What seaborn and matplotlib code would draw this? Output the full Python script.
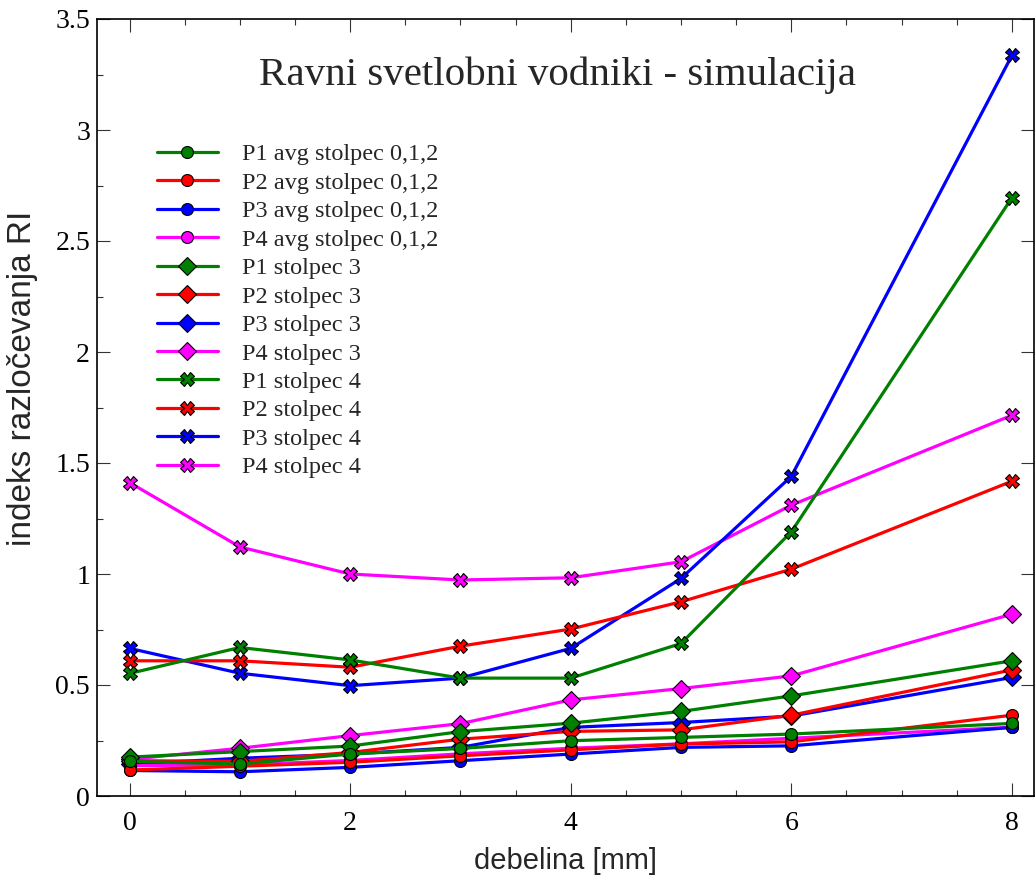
import numpy as np
import pandas as pd
import matplotlib
matplotlib.use("Agg")
import matplotlib.pyplot as plt
from matplotlib.ticker import MultipleLocator, FixedLocator
import seaborn as sns

# thickness of the light guide [mm]
debelina = [0, 1, 2, 3, 4, 5, 6, 8]

# resolution index RI, average of columns 0,1,2
p1_avg = [0.156, 0.144, 0.189, 0.214, 0.249, 0.264, 0.279, 0.327]
p2_avg = [0.117, 0.134, 0.152, 0.181, 0.208, 0.234, 0.244, 0.364]
p3_avg = [0.115, 0.109, 0.129, 0.159, 0.189, 0.219, 0.226, 0.309]
p4_avg = [0.137, 0.140, 0.160, 0.190, 0.215, 0.235, 0.260, 0.310]

# column 3
p1_st3 = [0.175, 0.200, 0.225, 0.290, 0.328, 0.381, 0.451, 0.609]
p2_st3 = [0.159, 0.156, 0.196, 0.256, 0.291, 0.298, 0.364, 0.568]
p3_st3 = [0.144, 0.170, 0.189, 0.219, 0.309, 0.331, 0.360, 0.534]
p4_st3 = [0.165, 0.215, 0.272, 0.326, 0.433, 0.484, 0.541, 0.819]

# column 4
p1_st4 = [0.552, 0.669, 0.613, 0.531, 0.531, 0.687, 1.190, 2.695]
p2_st4 = [0.609, 0.609, 0.580, 0.675, 0.752, 0.875, 1.022, 1.418]
p3_st4 = [0.665, 0.553, 0.497, 0.531, 0.665, 0.980, 1.440, 3.336]
p4_st4 = [1.412, 1.122, 1.000, 0.973, 0.983, 1.055, 1.310, 1.715]

labels = [
    "P1 avg stolpec 0,1,2", "P2 avg stolpec 0,1,2",
    "P3 avg stolpec 0,1,2", "P4 avg stolpec 0,1,2",
    "P1 stolpec 3", "P2 stolpec 3", "P3 stolpec 3", "P4 stolpec 3",
    "P1 stolpec 4", "P2 stolpec 4", "P3 stolpec 4", "P4 stolpec 4",
]
values = [p1_avg, p2_avg, p3_avg, p4_avg,
          p1_st3, p2_st3, p3_st3, p4_st3,
          p1_st4, p2_st4, p3_st4, p4_st4]

y_ticks = [0, 0.5, 1, 1.5, 2, 2.5, 3, 3.5]
y_ticklabels = ["0", "0.5", "1", "1.5", "2", "2.5", "3", "3.5"]
x_ticks = [0, 2, 4, 6, 8]
x_ticklabels = ["0", "2", "4", "6", "8"]

df = pd.DataFrame({
    "debelina": np.tile(debelina, len(labels)),
    "RI": np.concatenate(values),
    "serija": np.repeat(labels, len(debelina)),
})

colors = ["green", "red", "blue", "magenta"] * 3
markers = ["o"] * 4 + ["D"] * 4 + ["X"] * 4
msizes = [8.6] * 4 + [8.8] * 4 + [9.6] * 4

sns.set_style("ticks")
plt.rcParams["font.family"] = ["Liberation Serif", "DejaVu Serif"]

fig = plt.figure(figsize=(10.35, 8.77), dpi=100)
ax = fig.add_axes([97 / 1035, 81 / 877, 937 / 1035, 777 / 877])

# later series first so that P1 ends up on top of each group
for i in reversed(range(len(labels))):
    sub = df[df["serija"] == labels[i]]
    sns.lineplot(data=sub, x="debelina", y="RI", ax=ax,
                 color=colors[i], marker=markers[i], markersize=msizes[i],
                 markeredgecolor="black", markeredgewidth=0.8,
                 linewidth=2.3, label=labels[i], errorbar=None, sort=True)

ax.set_xlim(-0.295, 8.2)
ax.set_ylim(0, 3.5)

ax.xaxis.set_major_locator(FixedLocator(x_ticks))
ax.set_xticklabels(x_ticklabels)
ax.xaxis.set_minor_locator(MultipleLocator(0.5))
ax.yaxis.set_major_locator(FixedLocator(y_ticks))
ax.set_yticklabels(y_ticklabels)
ax.yaxis.set_minor_locator(MultipleLocator(0.25))

ax.tick_params(which="both", direction="in", top=True, right=True,
               colors="#333333", labelcolor="black")
ax.tick_params(which="major", length=9.5, width=0.8, labelsize=20)
ax.tick_params(axis="x", which="major", pad=11)
ax.tick_params(axis="y", which="major", pad=5)
ax.tick_params(which="minor", length=4.5, width=0.8)
ax.tick_params(axis="y", which="minor", right=False)

for s in ax.spines.values():
    s.set_linewidth(1.2)
    s.set_color("black")

ax.set_xlabel("debelina [mm]", fontsize=21, family="Liberation Sans", labelpad=8)
ax.set_ylabel("indeks razločevanja RI", fontsize=24, family="Liberation Sans")
ax.yaxis.set_label_coords(-0.063, 0.538)

ax.text(0.491, 0.928, "Ravni svetlobni vodniki - simulacija",
        transform=ax.transAxes, ha="center", va="center", fontsize=29.5)

handles, labs = ax.get_legend_handles_labels()
leg = ax.legend(handles[::-1], labs[::-1], loc="upper left",
                bbox_to_anchor=(0.064, 0.84), frameon=False, fontsize=17.5,
                handlelength=2.5, handletextpad=1.0, labelspacing=0.265,
                borderpad=0, borderaxespad=0, markerscale=1.0)

fig.savefig("out.png", dpi=100)
